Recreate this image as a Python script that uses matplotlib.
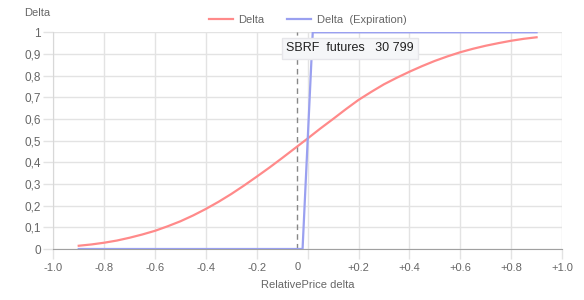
import matplotlib.pyplot as plt

plt.rcParams['font.family'] = ['Liberation Sans', 'DejaVu Sans']

# red curve: delta vs relative price change
x_delta = [-0.9, -0.85, -0.8, -0.75, -0.7, -0.65, -0.6, -0.55, -0.5, -0.45, -0.4,
           -0.35, -0.3, -0.25, -0.2, -0.15, -0.1, -0.05, 0.0, 0.05, 0.1, 0.15,
           0.2, 0.25, 0.3, 0.35, 0.4, 0.45, 0.5, 0.55, 0.6, 0.65, 0.7, 0.75,
           0.8, 0.85, 0.9]
y_delta = [0.015, 0.021, 0.029, 0.039, 0.052, 0.067, 0.084, 0.105, 0.128, 0.155, 0.185,
           0.218, 0.254, 0.293, 0.334, 0.376, 0.42, 0.465, 0.51, 0.556, 0.60, 0.645,
           0.688, 0.725, 0.76, 0.79, 0.818, 0.844, 0.868, 0.889, 0.908, 0.924, 0.938, 0.95,
           0.961, 0.97, 0.977]

# blue: delta at expiration
x_exp = [-0.9, -0.02, 0.02, 0.9]
y_exp = [0, 0, 1, 1]

spot = -0.04
spot_label = "SBRF  futures   30 799"

xticks = [-1.0, -0.8, -0.6, -0.4, -0.2, 0.0, 0.2, 0.4, 0.6, 0.8, 1.0]
xlabels = ["-1.0", "-0.8", "-0.6", "-0.4", "-0.2", "", "+0.2", "+0.4", "+0.6", "+0.8", "+1.0"]
yticks = [0, 0.1, 0.2, 0.3, 0.4, 0.5, 0.6, 0.7, 0.8, 0.9, 1.0]
ylabels = ["0", "0,1", "0,2", "0,3", "0,4", "0,5", "0,6", "0,7", "0,8", "0,9", "1"]

fig = plt.figure(figsize=(5.84, 3.0), dpi=100)
ax = fig.add_axes([53.3 / 584, 1 - 249 / 300, (562 - 53.3) / 584, (249 - 32.3) / 300])

ax.plot(x_delta, y_delta, color='#ff8a8a', lw=1.6, label='Delta', zorder=3)
ax.plot(x_exp, y_exp, color='#9aa0f0', lw=1.6, label='Delta  (Expiration)', zorder=3)
ax.axvline(spot, color='#888888', lw=1, ls=(0, (4, 3)), zorder=2)

ax.set_xlim(-1, 1)
ax.set_ylim(0, 1)
ax.set_xticks(xticks)
ax.set_xticklabels(xlabels)
ax.set_yticks(yticks)
ax.set_yticklabels(ylabels)
ax.grid(True, color='#e3e3e3', lw=1)
ax.set_axisbelow(True)
ax.tick_params(colors='#666666', labelsize=8, length=7, width=1)
ax.tick_params(axis='x', color='#e3e3e3', pad=3)
ax.tick_params(axis='y', color='#e3e3e3', pad=2, labelsize=8.5)
for s in ['top', 'right']:
    ax.spines[s].set_visible(False)
ax.spines['left'].set_color('#d8d8d8')
ax.spines['bottom'].set_color('#a0a0a0')

# "0" label sits at the spot line
ax.text(spot, -0.06, "0", transform=ax.get_xaxis_transform(), ha='center', va='top',
        fontsize=8, color='#666666')

ax.set_xlabel("RelativePrice delta", fontsize=8, color='#666666', labelpad=5)
fig.text(37 / 584, 1 - 13 / 300, "Delta", fontsize=8, color='#666666', ha='center', va='center')

ax.legend(loc='lower center', bbox_to_anchor=(0.5, 1.0), ncol=2, frameon=False,
          fontsize=8, labelcolor='#666666', handlelength=2.2, columnspacing=2.0,
          handletextpad=0.5, borderaxespad=0.3)

ax.text(-0.085, 0.926, spot_label, fontsize=9, color='#222222', va='center', ha='left',
        zorder=5, bbox=dict(boxstyle='square,pad=0.35', fc='#f5f6f8', ec='#e6e6ea', lw=1))

fig.savefig('out.png', dpi=100)
